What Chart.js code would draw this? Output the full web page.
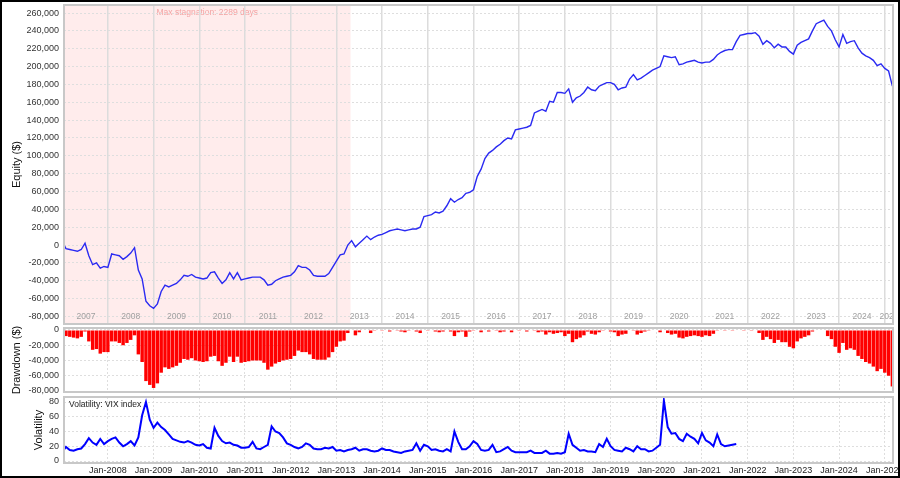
<!DOCTYPE html>
<html>
<head>
<meta charset="utf-8">
<script src="https://cdn.jsdelivr.net/npm/chart.js@4"></script>
<style>
  body { margin: 0; background: #fff; }
  #wrap { position: relative; width: 900px; height: 478px; overflow: hidden; }
  .panel { position: absolute; left: 0; width: 900px; }
  #frame { position: absolute; left: 0; top: 0; width: 900px; height: 478px; box-sizing: border-box; border: 2px solid #000; pointer-events: none; }
</style>
</head>
<body>
<div id="wrap">
  <div class="panel" style="top:0;height:330px"><canvas id="equityChart"></canvas></div>
  <div class="panel" style="top:325px;height:71px"><canvas id="ddChart"></canvas></div>
  <div class="panel" style="top:394px;height:84px"><canvas id="volChart"></canvas></div>
  <div id="frame"></div>
</div>
<script>
// monthly values, first month = Jan 2007
const startYear = 2007;

const equity = [
  4000, -4000, -5000, -6000, -7000, -5000, 2000, -12000, -22000, -20000, -26000, -24000,
  -25000, -10000, -11000, -12000, -16000, -13000, -9000, -3000, -28000, -38000, -63000, -68000,
  -71000, -66000, -52000, -45000, -47000, -45000, -43000, -39000, -34000, -35000, -33000, -36000,
  -37000, -38000, -37000, -31000, -30000, -37000, -43000, -39000, -31000, -38000, -31000, -39000,
  -38000, -37000, -36000, -36000, -36000, -39000, -45000, -44000, -40000, -38000, -36000, -35000,
  -34000, -30000, -23000, -25000, -25000, -28000, -34000, -35000, -35000, -35000, -32000, -25000,
  -18000, -11000, -10000, 0, 5000, -2000, 2000, 6000, 10000, 6000, 9000, 11000,
  12000, 14000, 16000, 17000, 18000, 17000, 16000, 17000, 18000, 18000, 20000, 32000,
  33000, 34000, 37000, 36000, 38000, 44000, 52000, 48000, 51000, 53000, 58000, 59000,
  62000, 77000, 85000, 97000, 103000, 106000, 110000, 113000, 117000, 120000, 119000, 129000,
  130000, 131000, 132000, 134000, 148000, 150000, 152000, 150000, 161000, 160000, 171000, 171000,
  170000, 175000, 160000, 165000, 167000, 171000, 177000, 174000, 173000, 178000, 180000, 182000,
  182000, 180000, 174000, 176000, 177000, 186000, 191000, 185000, 187000, 190000, 193000, 196000,
  198000, 200000, 212000, 211000, 210000, 211000, 202000, 203000, 205000, 206000, 207000, 205000,
  204000, 205000, 205000, 208000, 213000, 216000, 218000, 219000, 219000, 228000, 235000, 236000,
  237000, 237000, 238000, 234000, 225000, 229000, 226000, 221000, 225000, 222000, 222000, 217000,
  214000, 224000, 227000, 229000, 231000, 240000, 248000, 250000, 252000, 245000, 240000, 230000,
  222000, 236000, 226000, 228000, 229000, 221000, 215000, 212000, 210000, 207000, 201000, 203000,
  198000, 195000, 178000
];

const drawdown = [
  0, -8000, -9000, -10000, -11000, -9000, -2000, -15000, -26000, -25000, -31000, -29000,
  -29000, -15000, -15000, -17000, -20000, -17000, -13000, -7000, -32000, -42000, -67000, -72000,
  -76000, -70000, -56000, -49000, -51000, -49000, -47000, -43000, -38000, -39000, -37000, -40000,
  -41000, -42000, -41000, -35000, -34000, -41000, -47000, -43000, -35000, -42000, -35000, -43000,
  -42000, -41000, -40000, -40000, -40000, -43000, -52000, -48000, -44000, -42000, -40000, -39000,
  -38000, -34000, -27000, -29000, -29000, -32000, -38000, -39000, -39000, -39000, -36000, -29000,
  -22000, -15000, -14000, -4000, 0, -7000, -3000, 0, 0, -4000, -1000, 0,
  -1000, 0, -2000, 0, -1000, -2000, -3000, -1000, 0, -2000, -4000, 0,
  -1000, 0, -2000, -3000, -2000, 0, -2000, -8000, -3000, -2000, -9000, -2000,
  -1000, 0, -3000, 0, -2000, 0, -1000, -3000, -2000, 0, -3000, 0,
  -1000, 0, -2000, 0, -1000, -3000, -2000, -6000, -3000, -5000, -4000, -3000,
  -8000, -5000, -16000, -12000, -10000, -7000, -2000, -5000, -6000, -3000, -1000, 0,
  -2000, -3000, -8000, -6000, -5000, 0, -1000, -6000, -4000, -2000, -1000, 0,
  0, -3000, 0, -4000, -6000, -5000, -10000, -11000, -9000, -8000, -7000, -8000,
  -9000, -7000, -8000, -5000, -1000, 0, -1000, 0, -1000, 0, 0, -1000,
  0, -1000, 0, -4000, -13000, -9000, -12000, -17000, -13000, -16000, -16000, -22000,
  -24000, -15000, -11000, -9000, -7000, -2000, 0, 0, 0, -8000, -12000, -22000,
  -30000, -17000, -26000, -24000, -26000, -34000, -38000, -42000, -44000, -48000, -54000, -51000,
  -56000, -60000, -74000
];

const vix = [
  12, 19, 15, 14, 16, 17, 23, 31, 25, 22, 30, 23,
  27, 30, 32, 25, 20, 23, 27, 21, 32, 62, 80, 56,
  45, 52, 46, 42, 36, 30, 28, 26, 25, 27, 25, 22,
  21, 23, 18, 17, 45, 34, 27, 24, 25, 22, 21, 18,
  18, 19, 26, 17, 16, 19, 22, 47, 40, 38, 32, 24,
  22, 19, 17, 19, 24, 22, 17, 16, 16, 18, 17, 19,
  14, 15, 13, 15, 16, 18, 14, 16, 16, 14, 13, 14,
  17, 15, 15, 13, 12, 11, 13, 14, 15, 24, 14, 22,
  20, 15, 16, 14, 13, 16, 13, 40, 26, 16, 16, 20,
  27, 23, 15, 14, 15, 22, 12, 13, 16, 19, 14, 12,
  12, 12, 12, 14, 11, 11, 11, 14, 10, 10, 11, 10,
  12, 37, 22, 18, 14, 15, 13, 13, 12, 23, 19, 30,
  20, 15, 14, 13, 18, 16, 13, 20, 16, 16, 13, 14,
  18, 22, 82, 46, 37, 38, 30, 27, 37, 33, 30, 24,
  38, 28, 25, 20, 36, 23, 20, 21, 22, 23
];

const equityTicks = [-80000, -60000, -40000, -20000, 0, 20000, 40000, 60000, 80000, 100000,
  120000, 140000, 160000, 180000, 200000, 220000, 240000, 260000];
const drawdownTicks = [-80000, -60000, -40000, -20000, 0];
const vixTicks = [0, 20, 40, 60, 80];

const yearLines = [2008, 2009, 2010, 2011, 2012, 2013, 2014, 2015, 2016, 2017, 2018, 2019,
  2020, 2021, 2022, 2023, 2024, 2025];
const topYearLabels = ['2007', '2008', '2009', '2010', '2011', '2012', '2013', '2014', '2015',
  '2016', '2017', '2018', '2019', '2020', '2021', '2022', '2023', '2024', '2025'];
const bottomTickLabels = ['Jan-2008', 'Jan-2009', 'Jan-2010', 'Jan-2011', 'Jan-2012', 'Jan-2013',
  'Jan-2014', 'Jan-2015', 'Jan-2016', 'Jan-2017', 'Jan-2018', 'Jan-2019', 'Jan-2020', 'Jan-2021',
  'Jan-2022', 'Jan-2023', 'Jan-2024', 'Jan-2025'];

const stagnationStart = 2007.04;
const stagnationEnd = 2013.31;
const stagnationText = 'Max stagnation: 2289 days';

const xMin = 2007.04;
const xMax = 2025.18;

const monthX = (i) => startYear + i / 12;
const toPoints = (arr) => arr.map((v, i) => ({ x: monthX(i), y: v }));

Chart.defaults.font.family = '"Liberation Sans", Arial, sans-serif';
Chart.defaults.font.size = 9;
Chart.defaults.color = '#333';
Chart.defaults.animation = false;
Chart.defaults.plugins.legend.display = false;
Chart.defaults.plugins.tooltip.enabled = false;

const fmt = (v) => v.toLocaleString('en-US');

// 라벨 때문에 생기는 자동 여백 제거
const noPad = (s) => {
  s.paddingLeft = 0;
  s.paddingRight = 0;
  s.paddingTop = 0;
  s.paddingBottom = 0;
};

/* 패널 테두리 */
const framePlugin = {
  id: 'frame',
  afterDraw(chart) {
    const { ctx, chartArea: a } = chart;
    ctx.save();
    ctx.strokeStyle = '#c8c8c8';
    ctx.lineWidth = 2;
    ctx.strokeRect(a.left, a.top, a.right - a.left, a.bottom - a.top);
    ctx.restore();
  },
};

function yAxis(ticks, min, max, title, titleOffset) {
  return {
    min: min,
    max: max,
    afterFit: (s) => { s.width = 64; noPad(s); },
    afterBuildTicks: (s) => { s.ticks = ticks.map((v) => ({ value: v })); },
    ticks: { padding: 5, callback: (v) => fmt(v), color: '#333' },
    grid: { color: '#dedede', drawTicks: false },
    border: { display: false, dash: [2, 2] },
    title: {
      display: true,
      text: title,
      color: '#111',
      font: { size: 11 },
      padding: { top: titleOffset, bottom: 0 },
    },
  };
}

function xAxis(labels, solid) {
  return {
    type: 'linear',
    min: xMin,
    max: xMax,
    offset: false,
    afterBuildTicks: (s) => { s.ticks = yearLines.map((v) => ({ value: v })); },
    afterFit: (s) => { s.height = labels ? 12 : 0; noPad(s); },
    ticks: {
      display: !!labels,
      autoSkip: false,
      maxRotation: 0,
      padding: 2,
      color: '#222',
      callback: (v, i) => (labels ? labels[i] : ''),
    },
    grid: {
      color: solid ? '#dcdcdc' : '#dedede',
      lineWidth: solid ? 1.5 : 1,
      drawTicks: false,
      offset: false,
    },
    border: { display: false, dash: solid ? [] : [2, 2] },
  };
}

/* 위쪽: equity */
const stagnationPlugin = {
  id: 'stagnation',
  beforeDraw(chart) {
    const { ctx, chartArea: a, scales: { x } } = chart;
    const x0 = Math.max(x.getPixelForValue(stagnationStart), a.left);
    const x1 = x.getPixelForValue(stagnationEnd);
    ctx.save();
    ctx.fillStyle = '#ffecec';
    ctx.fillRect(x0, a.top, x1 - x0, a.bottom - a.top);
    ctx.fillStyle = '#f3a3a3';
    ctx.font = '8.5px "Liberation Sans", Arial, sans-serif';
    ctx.textAlign = 'center';
    ctx.textBaseline = 'middle';
    ctx.fillText(stagnationText, (x0 + x1) / 2, a.top + 8);
    ctx.restore();
  },
  afterDatasetsDraw(chart) {
    const { ctx, chartArea: a, scales: { x } } = chart;
    ctx.save();
    ctx.beginPath();
    ctx.rect(a.left, a.top, a.right - a.left, a.bottom - a.top);
    ctx.clip();
    ctx.fillStyle = '#a0a0a0';
    ctx.font = '8.5px "Liberation Sans", Arial, sans-serif';
    ctx.textAlign = 'center';
    ctx.textBaseline = 'middle';
    topYearLabels.forEach((lab, i) => {
      const y0 = Math.max(startYear + i, xMin);
      const y1 = Math.min(startYear + i + 1, xMax);
      const cx = (x.getPixelForValue(y0) + x.getPixelForValue(y1)) / 2;
      ctx.fillText(lab, cx, a.bottom - 7);
    });
    ctx.restore();
  },
};

new Chart(document.getElementById('equityChart'), {
  type: 'line',
  data: {
    datasets: [{
      data: toPoints(equity),
      borderColor: '#2a2af2',
      borderWidth: 1.4,
      pointRadius: 0,
      tension: 0,
    }],
  },
  options: {
    responsive: true,
    maintainAspectRatio: false,
    layout: { autoPadding: false, padding: { top: 5, right: 7, bottom: 6, left: 0 } },
    scales: {
      x: xAxis(null, true),
      y: yAxis(equityTicks, -88500, 269000, 'Equity ($)', 10),
    },
  },
  plugins: [stagnationPlugin, framePlugin],
});

/* 가운데: drawdown */
new Chart(document.getElementById('ddChart'), {
  type: 'bar',
  data: {
    datasets: [{
      data: toPoints(drawdown),
      backgroundColor: '#ff0000',
      barPercentage: 0.9,
      categoryPercentage: 1,
    }],
  },
  options: {
    responsive: true,
    maintainAspectRatio: false,
    layout: { autoPadding: false, padding: { top: 3, right: 7, bottom: 4, left: 0 } },
    scales: {
      x: xAxis(null, false),
      y: yAxis(drawdownTicks, -81300, 2600, 'Drawdown ($)', 10),
    },
  },
  plugins: [framePlugin],
});

/* 아래: VIX */
const vixLabelPlugin = {
  id: 'vixLabel',
  afterDraw(chart) {
    const { ctx, chartArea: a } = chart;
    ctx.save();
    ctx.fillStyle = '#222';
    ctx.font = '8.5px "Liberation Sans", Arial, sans-serif';
    ctx.textBaseline = 'middle';
    ctx.fillText('Volatility: VIX index', a.left + 5, a.top + 8);
    ctx.restore();
  },
};

new Chart(document.getElementById('volChart'), {
  type: 'line',
  data: {
    datasets: [{
      data: toPoints(vix),
      borderColor: '#0000ff',
      borderWidth: 2,
      pointRadius: 0,
      tension: 0,
    }],
  },
  options: {
    responsive: true,
    maintainAspectRatio: false,
    layout: { autoPadding: false, padding: { top: 3, right: 7, bottom: 3, left: 0 } },
    scales: {
      x: xAxis(bottomTickLabels, false),
      y: yAxis(vixTicks, -2.7, 86.8, 'Volatility', 32),
    },
  },
  plugins: [framePlugin, vixLabelPlugin],
});
</script>
</body>
</html>
